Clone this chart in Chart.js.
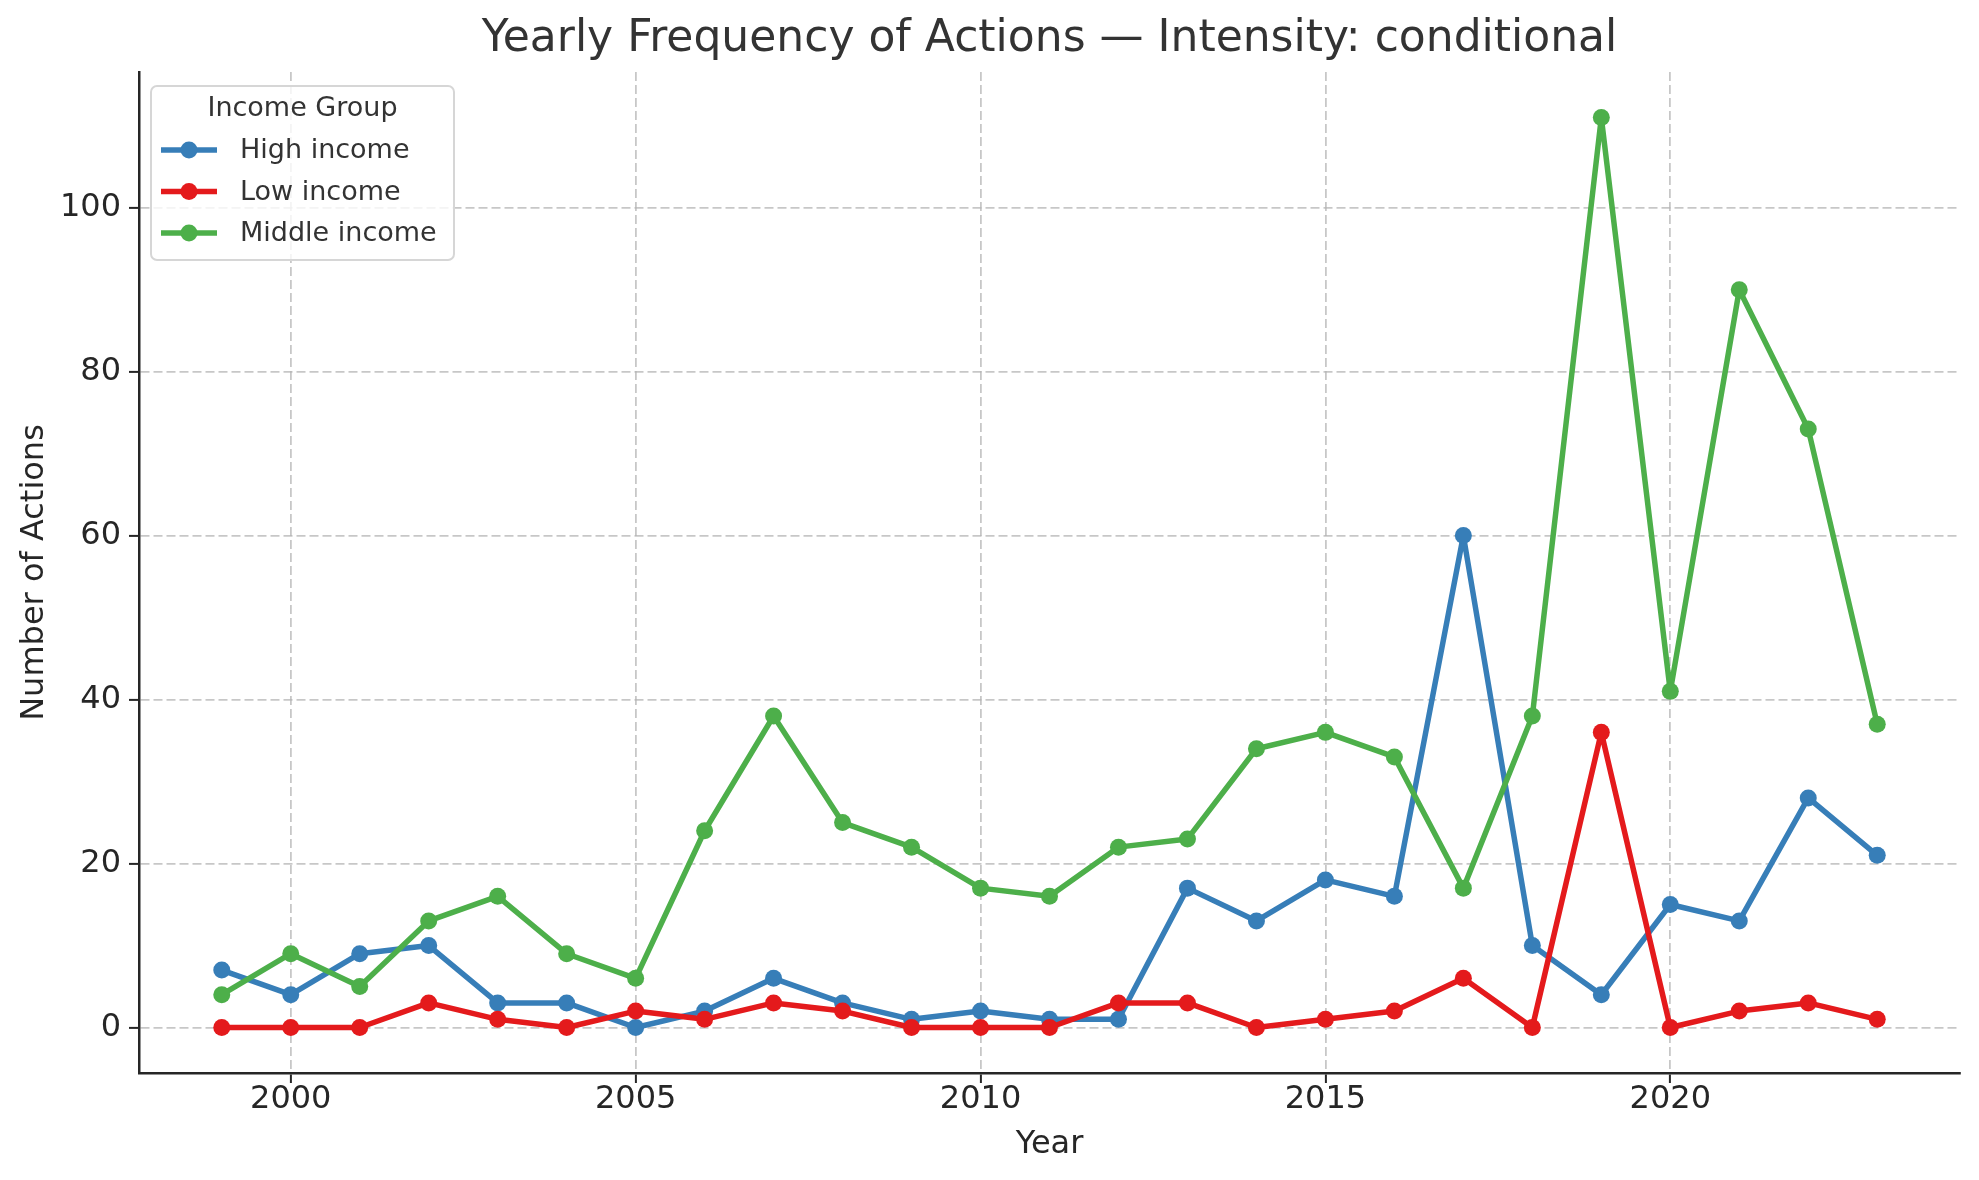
<!DOCTYPE html>
<html>
<head>
<meta charset="utf-8">
<script src="https://cdn.jsdelivr.net/npm/chart.js@4"></script>
<style>
  html, body { margin: 0; padding: 0; background: #fff; }
  #wrap { width: 1979px; height: 1180px; }
</style>
</head>
<body>
<div id="wrap"><canvas id="chart-1" width="1979" height="1180"></canvas></div>
<script>
/************************ data *********************************/

const years = [1999, 2000, 2001, 2002, 2003, 2004, 2005, 2006, 2007, 2008, 2009, 2010, 2011,
  2012, 2013, 2014, 2015, 2016, 2017, 2018, 2019, 2020, 2021, 2022, 2023];
const highIncome = [7, 4, 9, 10, 3, 3, 0, 2, 6, 3, 1, 2, 1, 1, 17, 13, 18, 16, 60, 10, 4, 15, 13, 28, 21];
const lowIncome = [0, 0, 0, 3, 1, 0, 2, 1, 3, 2, 0, 0, 0, 3, 3, 0, 1, 2, 6, 0, 36, 0, 2, 3, 1];
const middleIncome = [4, 9, 5, 13, 16, 9, 6, 24, 38, 25, 22, 17, 16, 22, 23, 34, 36, 33, 17, 38, 111, 41, 90, 73, 37];
const xTicks = [2000, 2005, 2010, 2015, 2020];
const yTicks = [0, 20, 40, 60, 80, 100];

const FONT = "'DejaVu Sans', sans-serif";
const TITLE = "Yearly Frequency of Actions \u2014 Intensity: conditional";

function toPoints(values) {
  return years.map((yr, i) => ({ x: yr, y: values[i] }));
}

/************************ title centred over the axes ************************/

const axesTitle = {
  id: "axesTitle",
  afterDraw(chart) {
    const ctx = chart.ctx;
    const area = chart.chartArea;
    ctx.save();
    ctx.fillStyle = "#333";
    ctx.font = "44px " + FONT;
    ctx.textAlign = "center";
    ctx.textBaseline = "middle";
    ctx.fillText(TITLE, (area.left + area.right) / 2, 40);
    ctx.restore();
  },
};

/************************ legend drawn inside the axes ************************/

const legendBox = {
  id: "legendBox",
  afterDraw(chart) {
    const ctx = chart.ctx;
    const area = chart.chartArea;
    const x = area.left + 12;
    const y = area.top + 14;
    const w = 303;
    const h = 174;
    ctx.save();
    ctx.beginPath();
    ctx.roundRect(x, y, w, h, 6);
    ctx.fillStyle = "rgba(255,255,255,0.8)";
    ctx.fill();
    ctx.lineWidth = 2;
    ctx.strokeStyle = "#d6d6d6";
    ctx.stroke();

    ctx.fillStyle = "#333";
    ctx.font = "27px " + FONT;
    ctx.textAlign = "center";
    ctx.textBaseline = "middle";
    ctx.fillText("Income Group", x + w / 2, y + 23);

    const sets = chart.data.datasets;
    sets.forEach((ds, i) => {
      const cy = y + 64 + i * 41.5;
      ctx.strokeStyle = ds.borderColor;
      ctx.lineWidth = 5.5;
      ctx.beginPath();
      ctx.moveTo(x + 10, cy);
      ctx.lineTo(x + 66, cy);
      ctx.stroke();
      ctx.fillStyle = ds.borderColor;
      ctx.beginPath();
      ctx.arc(x + 38, cy, 8.5, 0, Math.PI * 2);
      ctx.fill();
      ctx.fillStyle = "#333";
      ctx.textAlign = "left";
      ctx.fillText(ds.label, x + 89, cy + 1);
    });
    ctx.restore();
  },
};

/************************* CHART ******************************/

const ctx1 = document.getElementById("chart-1").getContext("2d");
const myChart1 = new Chart(ctx1, {
  type: "line",
  data: {
    datasets: [
      {
        label: "High income",
        data: toPoints(highIncome),
        borderColor: "#377eb8",
        backgroundColor: "#377eb8",
        order: 2,
      },
      {
        label: "Low income",
        data: toPoints(lowIncome),
        borderColor: "#e41a1c",
        backgroundColor: "#e41a1c",
        order: 1,
      },
      {
        label: "Middle income",
        data: toPoints(middleIncome),
        borderColor: "#4daf4a",
        backgroundColor: "#4daf4a",
        order: 0,
      },
    ],
  },
  options: {
    responsive: false,
    animation: false,
    devicePixelRatio: 1,
    layout: {
      padding: { left: 0, right: 19, top: 72, bottom: 0 },
    },
    elements: {
      line: { borderWidth: 5.5, tension: 0, borderJoinStyle: "round", borderCapStyle: "round" },
      point: { radius: 8.5, borderWidth: 0, hoverRadius: 8.5 },
    },
    plugins: {
      legend: { display: false },
      tooltip: { enabled: false },
      title: { display: false },
    },
    scales: {
      x: {
        type: "linear",
        min: 1997.8,
        max: 2024.2,
        afterBuildTicks: (s) => { s.ticks = xTicks.map((v) => ({ value: v })); },
        afterFit: (s) => { s.height = 107; },
        ticks: {
          color: "#262626",
          font: { family: FONT, size: 32 },
          padding: -3,
          maxRotation: 0,
          callback: (v) => String(v),
        },
        grid: {
          color: "rgba(180,180,180,0.75)",
          lineWidth: 1.8,
          tickLength: 10,
          tickColor: "#262626",
          tickWidth: 2,
          tickBorderDash: [],
        },
        border: { display: true, color: "#262626", width: 2.5, dash: [9, 4] },
        title: {
          display: true,
          text: "Year",
          color: "#262626",
          font: { family: FONT, size: 32 },
          padding: { top: 0, bottom: 16 },
        },
      },
      y: {
        min: -5.55,
        max: 116.55,
        afterBuildTicks: (s) => { s.ticks = yTicks.map((v) => ({ value: v })); },
        afterFit: (s) => { s.width = 139; },
        ticks: {
          color: "#262626",
          font: { family: FONT, size: 32 },
          padding: 8,
        },
        grid: {
          color: "rgba(180,180,180,0.75)",
          lineWidth: 1.8,
          tickLength: 10,
          tickColor: "#262626",
          tickWidth: 2,
          tickBorderDash: [],
        },
        border: { display: true, color: "#262626", width: 2.5, dash: [9, 4] },
        title: {
          display: true,
          text: "Number of Actions",
          color: "#262626",
          font: { family: FONT, size: 32 },
          padding: { top: 15, bottom: 0 },
        },
      },
    },
  },
  plugins: [axesTitle, legendBox],
});
</script>
</body>
</html>
